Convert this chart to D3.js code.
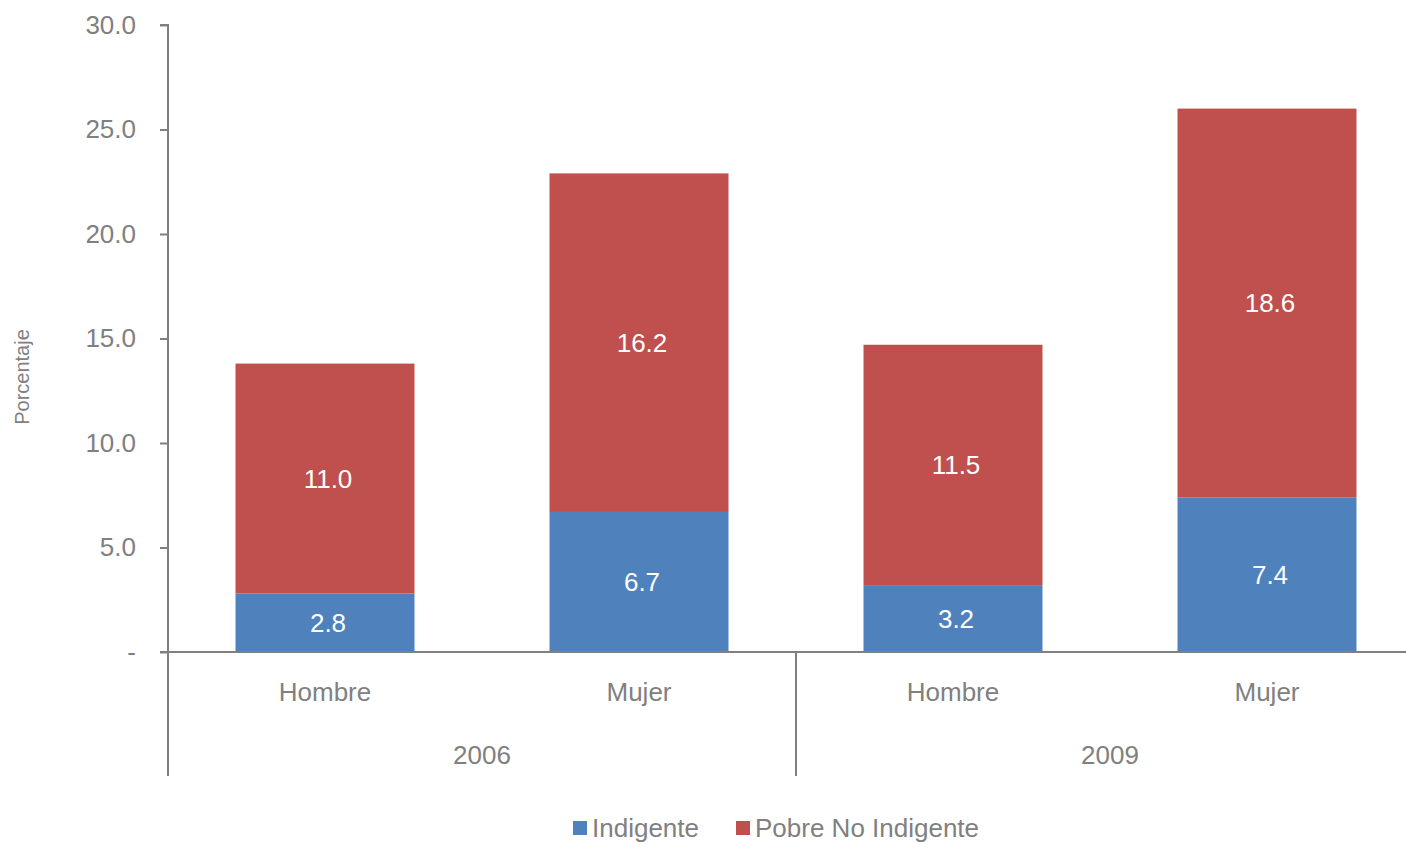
<!DOCTYPE html>
<html>
<head>
<meta charset="utf-8">
<script src="https://cdn.jsdelivr.net/npm/d3@7"></script>
<style>
  body { margin: 0; background: #fff; }
  svg { display: block; font-family: "Liberation Sans", Arial, sans-serif; }
</style>
</head>
<body>
<svg id="chart" width="1406" height="843"></svg>
<script>
// data
var years = ["2006", "2009"];
var sexes = ["Hombre", "Mujer"];
var indigente = [2.8, 6.7, 3.2, 7.4];
var pobreNoIndigente = [11.0, 16.2, 11.5, 18.6];
var yTicks = [0, 5, 10, 15, 20, 25, 30];
var seriesNames = ["Indigente", "Pobre No Indigente"];
var colors = ["#4F81BD", "#C0504D"];

var width = 1406, height = 843;
var x0 = 168, x1 = 1424, yTop = 25, yBottom = 652;
var grey = "#808080";
var fs = "26px";

var svg = d3.select("#chart");

// one row per bar: year + sex
var rows = [];
years.forEach(function(yr, i) {
    sexes.forEach(function(s, j) {
        var k = i * sexes.length + j;
        rows.push({ key: yr + "-" + s, year: yr, sex: s, Indigente: indigente[k], "Pobre No Indigente": pobreNoIndigente[k] });
    });
});

var x = d3.scaleBand()
    .domain(rows.map(function(d) { return d.key; }))
    .range([x0, x1])
    .paddingInner(0.43)
    .paddingOuter(0.215);

var y = d3.scaleLinear()
    .domain([0, 30])
    .range([yBottom, yTop]);

var stack = d3.stack().keys(seriesNames);
var layers = stack(rows);

// bars
var layer = svg.append("g").selectAll("g")
    .data(layers)
    .join("g")
    .attr("fill", function(d, i) { return colors[i]; });

layer.selectAll("rect")
    .data(function(d) { return d; })
    .join("rect")
    .attr("x", function(d) { return x(d.data.key); })
    .attr("width", x.bandwidth())
    .attr("y", function(d) { return y(d[1]); })
    .attr("height", function(d) { return y(d[0]) - y(d[1]); });

layer.selectAll("text")
    .data(function(d) { return d; })
    .join("text")
    .attr("x", function(d) { return x(d.data.key) + x.bandwidth() / 2 + 3; })
    .attr("y", function(d) { return (y(d[0]) + y(d[1])) / 2; })
    .attr("dy", "0.36em")
    .attr("text-anchor", "middle")
    .attr("fill", "#fff")
    .style("font-size", fs)
    .text(function(d) { return d3.format(".1f")(d[1] - d[0]); });

// y axis
var yAxis = svg.append("g")
    .attr("transform", "translate(" + x0 + ",0)")
    .call(d3.axisLeft(y)
        .tickValues(yTicks)
        .tickSize(8)
        .tickPadding(24)
        .tickFormat(function(d) { return d === 0 ? "-" : d3.format(".1f")(d); }));
yAxis.select(".domain").attr("stroke", grey).attr("stroke-width", 2).attr("d", "M-8," + yTop + "H0V" + yBottom);
yAxis.selectAll(".tick line").attr("stroke", grey).attr("stroke-width", 2);
yAxis.selectAll(".tick text").attr("fill", grey).style("font-size", fs);

svg.append("text")
    .attr("transform", "translate(29,377) rotate(-90)")
    .attr("text-anchor", "middle")
    .attr("fill", grey)
    .style("font-size", "20px")
    .text("Porcentaje");

// x axis: baseline + group dividers
var xAxis = svg.append("g");
xAxis.append("line")
    .attr("x1", x0 - 8).attr("x2", x1)
    .attr("y1", yBottom).attr("y2", yBottom)
    .attr("stroke", grey).attr("stroke-width", 2);

var step = x.step();
var groupEdges = d3.range(years.length + 1).map(function(i) { return x0 + i * sexes.length * step; });
xAxis.selectAll("line.div")
    .data(groupEdges)
    .join("line")
    .attr("class", "div")
    .attr("x1", function(d) { return d; }).attr("x2", function(d) { return d; })
    .attr("y1", yBottom).attr("y2", 776)
    .attr("stroke", grey).attr("stroke-width", 2);

xAxis.selectAll("text.sex")
    .data(rows)
    .join("text")
    .attr("class", "sex")
    .attr("x", function(d) { return x(d.key) + x.bandwidth() / 2; })
    .attr("y", 692)
    .attr("dy", "0.36em")
    .attr("text-anchor", "middle")
    .attr("fill", grey)
    .style("font-size", fs)
    .text(function(d) { return d.sex; });

xAxis.selectAll("text.year")
    .data(years)
    .join("text")
    .attr("class", "year")
    .attr("x", function(d, i) { return (groupEdges[i] + groupEdges[i + 1]) / 2; })
    .attr("y", 755)
    .attr("dy", "0.36em")
    .attr("text-anchor", "middle")
    .attr("fill", grey)
    .style("font-size", fs)
    .text(function(d) { return d; });

// legend
var legendX = [573, 736];
var legend = svg.append("g").selectAll("g")
    .data(seriesNames)
    .join("g")
    .attr("transform", function(d, i) { return "translate(" + legendX[i] + ",821)"; });
legend.append("rect")
    .attr("width", 14).attr("height", 14)
    .attr("fill", function(d, i) { return colors[i]; });
legend.append("text")
    .attr("x", 19)
    .attr("y", 7)
    .attr("dy", "0.36em")
    .attr("fill", grey)
    .style("font-size", fs)
    .text(function(d) { return d; });
</script>
</body>
</html>
